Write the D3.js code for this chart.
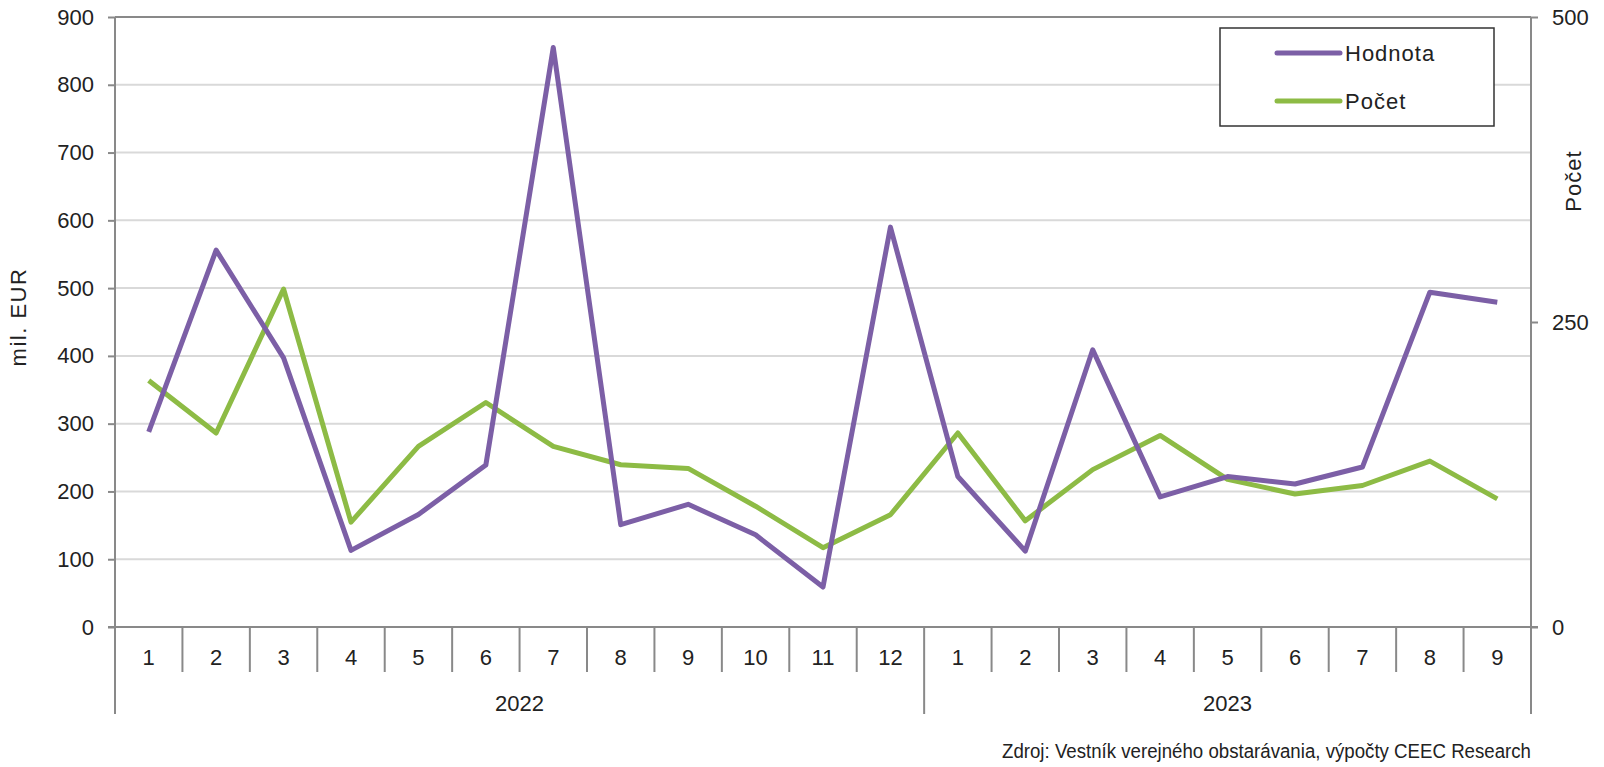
<!DOCTYPE html>
<html lang="sk">
<head>
<meta charset="UTF-8" />
<title>Hodnota a počet</title>
<style>
  body { margin: 0; background: #fff; }
  svg { display: block; font-family: "Liberation Sans", Arial, sans-serif; }
  .tick text { fill: #222; }
</style>
</head>
<body>
<svg width="1604" height="767"></svg>
<script src="https://d3js.org/d3.v7.min.js"></script>
<script>
// months by year
const years = ['2022', '2023'];
const months2022 = ['1','2','3','4','5','6','7','8','9','10','11','12'];
const months2023 = ['1','2','3','4','5','6','7','8','9'];
// Hodnota, mil. EUR (left axis)
const hodnota = [288, 556, 397, 113, 166, 239, 855, 151, 181, 136, 59, 590,
                 222, 112, 409, 192, 222, 211, 236, 494, 479];
// Počet (right axis)
const pocet = [202, 159, 277, 86, 148, 184, 148, 133, 130, 99, 65, 92,
               159, 87, 129, 157, 121, 109, 116, 136, 105];
const leftTicks = [0, 100, 200, 300, 400, 500, 600, 700, 800, 900];
const rightTicks = [0, 250, 500];

const purple = '#7c5fa6', green = '#8dbb45', axisCol = '#898989', gridCol = '#d9d9d9';
const mLeft = 115, mRight = 1531, mTop = 17, mBottom = 627;
const fs = 22;

const svg = d3.select('svg');
const keys = [];
months2022.forEach(m => keys.push('2022-' + m));
months2023.forEach(m => keys.push('2023-' + m));
const labels = months2022.concat(months2023);

const x = d3.scaleBand().domain(keys).range([mLeft, mRight]);
const yL = d3.scaleLinear().domain([0, 900]).range([mBottom, mTop]);
const yR = d3.scaleLinear().domain([0, 500]).range([mBottom, mTop]);

// gridlines
svg.append('g').selectAll('line').data(leftTicks.filter(d => d > 0 && d < 900)).join('line')
    .attr('x1', mLeft).attr('x2', mRight)
    .attr('y1', d => yL(d)).attr('y2', d => yL(d))
    .attr('stroke', gridCol).attr('stroke-width', 2);
svg.append('line').attr('x1', mLeft).attr('x2', mRight).attr('y1', yL(900)).attr('y2', yL(900))
    .attr('stroke', axisCol).attr('stroke-width', 2);

// left axis
const gL = svg.append('g').attr('transform', `translate(${mLeft},0)`)
    .call(d3.axisLeft(yL).tickValues(leftTicks).tickSize(7).tickPadding(14));
gL.select('.domain').remove();
gL.selectAll('.tick line').attr('stroke', axisCol).attr('stroke-width', 2);
gL.selectAll('.tick text').attr('font-size', fs);
svg.append('line').attr('x1', mLeft).attr('x2', mLeft).attr('y1', mTop).attr('y2', 714)
    .attr('stroke', axisCol).attr('stroke-width', 2);

// right axis
const gR = svg.append('g').attr('transform', `translate(${mRight},0)`)
    .call(d3.axisRight(yR).tickValues(rightTicks).tickSize(7).tickPadding(14));
gR.select('.domain').remove();
gR.selectAll('.tick line').attr('stroke', axisCol).attr('stroke-width', 2);
gR.selectAll('.tick text').attr('font-size', fs);
svg.append('line').attr('x1', mRight).attr('x2', mRight).attr('y1', mTop).attr('y2', 714)
    .attr('stroke', axisCol).attr('stroke-width', 2);

// bottom axis line
svg.append('line').attr('x1', mLeft - 7).attr('x2', mRight + 7).attr('y1', mBottom).attr('y2', mBottom)
    .attr('stroke', axisCol).attr('stroke-width', 2);

// category dividers and labels
svg.append('g').selectAll('line').data(keys.slice(1)).join('line')
    .attr('x1', d => x(d)).attr('x2', d => x(d))
    .attr('y1', mBottom).attr('y2', 672)
    .attr('stroke', axisCol).attr('stroke-width', 2);
svg.append('g').selectAll('text').data(keys).join('text')
    .attr('x', d => x(d) + x.bandwidth() / 2).attr('y', 665)
    .attr('text-anchor', 'middle').attr('font-size', fs).attr('fill', '#222')
    .text((d, i) => labels[i]);

// year divider and labels
const split = x('2023-1');
svg.append('line').attr('x1', split).attr('x2', split).attr('y1', 672).attr('y2', 714)
    .attr('stroke', axisCol).attr('stroke-width', 2);
svg.append('text').attr('x', (mLeft + split) / 2).attr('y', 711)
    .attr('text-anchor', 'middle').attr('font-size', fs).attr('fill', '#222').text(years[0]);
svg.append('text').attr('x', (split + mRight) / 2).attr('y', 711)
    .attr('text-anchor', 'middle').attr('font-size', fs).attr('fill', '#222').text(years[1]);

// axis titles
svg.append('text').attr('transform', `translate(26,317) rotate(-90)`)
    .attr('text-anchor', 'middle').attr('font-size', fs).attr('letter-spacing', 1.5)
    .attr('fill', '#222').text('mil. EUR');
svg.append('text').attr('transform', `translate(1581,181) rotate(-90)`)
    .attr('text-anchor', 'middle').attr('font-size', fs).attr('letter-spacing', 1)
    .attr('fill', '#222').text('Počet');

// lines
const cx = (d, i) => x(keys[i]) + x.bandwidth() / 2;
svg.append('path').datum(pocet)
    .attr('fill', 'none').attr('stroke', green).attr('stroke-width', 5).attr('stroke-linejoin', 'round')
    .attr('d', d3.line().x(cx).y(d => yR(d)));
svg.append('path').datum(hodnota)
    .attr('fill', 'none').attr('stroke', purple).attr('stroke-width', 5).attr('stroke-linejoin', 'round')
    .attr('d', d3.line().x(cx).y(d => yL(d)));

// legend
const lg = svg.append('g').attr('transform', 'translate(1220,28)');
lg.append('rect').attr('width', 274).attr('height', 98)
    .attr('fill', '#fff').attr('stroke', '#333').attr('stroke-width', 1.5);
[['Hodnota', purple, 25], ['Počet', green, 73]].forEach(([name, col, yy]) => {
    lg.append('line').attr('x1', 57).attr('x2', 120).attr('y1', yy).attr('y2', yy)
        .attr('stroke', col).attr('stroke-width', 5).attr('stroke-linecap', 'round');
    lg.append('text').attr('x', 125).attr('y', yy + 8).attr('font-size', fs)
        .attr('letter-spacing', 1).attr('fill', '#222').text(name);
});

// source
svg.append('text').attr('x', 1531).attr('y', 758).attr('text-anchor', 'end')
    .attr('font-size', 20).attr('fill', '#222')
    .attr('textLength', 529).attr('lengthAdjust', 'spacingAndGlyphs')
    .text('Zdroj: Vestník verejného obstarávania, výpočty CEEC Research');
</script>
</body>
</html>
